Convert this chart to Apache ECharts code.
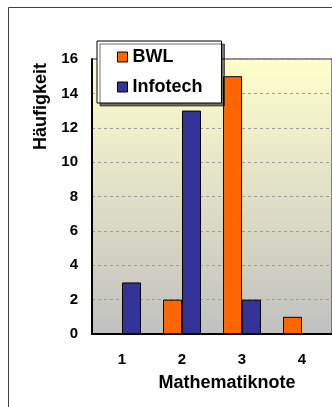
<!DOCTYPE html>
<html>
<head>
<meta charset="utf-8">
<script src="https://cdn.jsdelivr.net/npm/echarts@6/dist/echarts.min.js"></script>
<style>
  html, body { margin: 0; padding: 0; background: #fff; }
  #chart { width: 332px; height: 407px; }
</style>
</head>
<body>
<div id="chart"></div>
<script>
// Grade distribution per study programme
const grades = ['1', '2', '3', '4'];
const bwl = [0, 2, 15, 1];
const infotech = [3, 13, 2, 0];
const yTicks = { min: 0, max: 16, interval: 2 };

const font = '"Liberation Sans", Arial, sans-serif';
const chart = echarts.init(document.getElementById('chart'), null, { renderer: 'canvas' });

chart.setOption({
  animation: false,
  backgroundColor: '#ffffff',
  textStyle: { fontFamily: font },
  graphic: [{
    type: 'rect',
    z: -1,
    shape: { x: 8.5, y: 7.5, width: 500, height: 500 },
    style: { fill: 'none', stroke: '#404040', lineWidth: 1 }
  }],
  grid: {
    left: 92, top: 59, width: 248, height: 275,
    show: true,
    borderColor: '#202020', borderWidth: 1,
    backgroundColor: new echarts.graphic.LinearGradient(0, 0, 0, 1, [
      { offset: 0, color: '#FFFFCC' },
      { offset: 1, color: '#C0C0C0' }
    ])
  },
  legend: {
    orient: 'vertical',
    left: 97, top: 41,
    padding: [7, 19, 7, 20],
    itemGap: 12,
    itemWidth: 10, itemHeight: 10,
    backgroundColor: '#ffffff',
    borderColor: '#000000', borderWidth: 1,
    shadowColor: 'rgba(0,0,0,0.55)', shadowOffsetX: 3, shadowOffsetY: 3, shadowBlur: 0,
    textStyle: { fontFamily: font, fontWeight: 'bold', fontSize: 18, color: '#000' },
    itemStyle: { borderColor: '#000', borderWidth: 1 },
    data: ['BWL', 'Infotech'],
    icon: 'rect'
  },
  xAxis: {
    type: 'category',
    data: grades,
    name: 'Mathematiknote',
    nameLocation: 'middle',
    nameGap: 40,
    nameTextStyle: { fontFamily: font, fontWeight: 'bold', fontSize: 18, color: '#000', padding: [0, 0, 0, 30] },
    axisLine: { lineStyle: { color: '#000', width: 2 } },
    axisTick: { show: false },
    axisLabel: { margin: 18, fontFamily: font, fontWeight: 'bold', fontSize: 15, color: '#000' }
  },
  yAxis: {
    type: 'value',
    min: yTicks.min, max: yTicks.max, interval: yTicks.interval,
    name: 'Häufigkeit',
    nameLocation: 'middle',
    nameGap: 38,
    nameRotate: 90,
    nameTextStyle: { fontFamily: font, fontWeight: 'bold', fontSize: 18, color: '#000', padding: [0, 0, 0, 180] },
    axisLine: { show: true, lineStyle: { color: '#000', width: 2 } },
    axisTick: { show: false },
    axisLabel: { margin: 14, fontFamily: font, fontWeight: 'bold', fontSize: 15, color: '#000' },
    splitLine: { lineStyle: { color: '#9a9a9a', type: [3, 3], width: 1 } }
  },
  series: [
    {
      name: 'BWL', type: 'bar', data: bwl,
      barWidth: 19, barGap: '0%',
      itemStyle: { color: '#FF6600', borderColor: '#000', borderWidth: 1 }
    },
    {
      name: 'Infotech', type: 'bar', data: infotech,
      barWidth: 19, barGap: '0%',
      itemStyle: { color: '#333399', borderColor: '#000', borderWidth: 1 }
    }
  ]
});
</script>
</body>
</html>
